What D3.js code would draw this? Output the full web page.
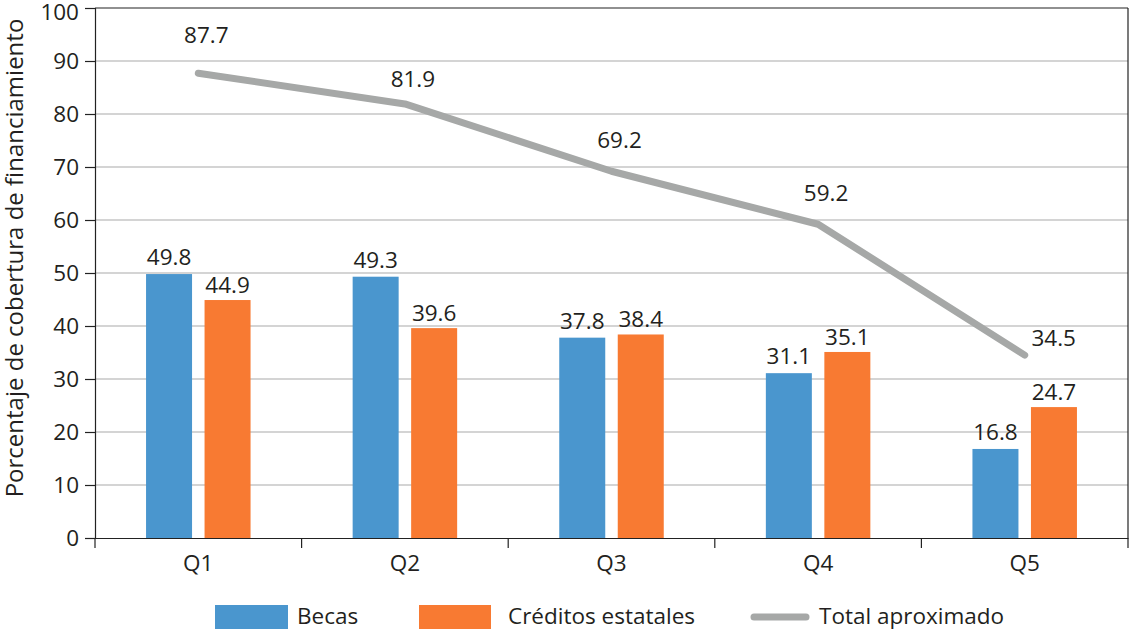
<!DOCTYPE html>
<html>
<head>
<meta charset="utf-8">
<script src="https://cdn.jsdelivr.net/npm/d3@7/dist/d3.min.js"></script>
<style>
  html, body { margin: 0; padding: 0; background: #fff; }
  svg { display: block; font-family: "Open Sans", "Noto Sans", sans-serif; }
</style>
</head>
<body>
<svg id="chart" width="1130" height="630"></svg>
<script>
// ---- data ----
const categories = ["Q1", "Q2", "Q3", "Q4", "Q5"];
const becas = [49.8, 49.3, 37.8, 31.1, 16.8];
const creditos = [44.9, 39.6, 38.4, 35.1, 24.7];
const total = [87.7, 81.9, 69.2, 59.2, 34.5];
const yTicks = [0, 10, 20, 30, 40, 50, 60, 70, 80, 90, 100];
const seriesNames = ["Becas", "Créditos estatales", "Total aproximado"];

// ---- layout ----
const colors = { becas: "#4a96ce", creditos: "#f87a32", total: "#a6a8a7" };
const margin = { left: 95, right: 2, top: 8, bottom: 92 };
const W = 1130, H = 630;
const totalLabelNudge = [[8, -30], [8, -17], [8, -23], [8, -23], [29, -9]];
const fs = 22.5;

const svg = d3.select("#chart");
const x = d3.scaleBand().domain(categories).range([margin.left, W - margin.right]);
const y = d3.scaleLinear().domain([0, 100]).range([H - margin.bottom, margin.top]);
const barW = 46, gap = 12.5;

// gridlines
svg.append("g").selectAll("line").data(yTicks.filter(d => d > 0 && d < 100)).join("line")
  .attr("x1", margin.left).attr("x2", W - margin.right)
  .attr("y1", d => y(d)).attr("y2", d => y(d))
  .attr("stroke", "#a9a9a9").attr("stroke-width", 1);

// frame top & right
svg.append("line").attr("x1", margin.left).attr("x2", W - margin.right)
  .attr("y1", y(100)).attr("y2", y(100)).attr("stroke", "#222").attr("stroke-width", 1.2);
svg.append("line").attr("x1", W - margin.right).attr("x2", W - margin.right)
  .attr("y1", y(100)).attr("y2", y(0)).attr("stroke", "#222").attr("stroke-width", 1.2);

// bars
const cx = d => x(d) + x.bandwidth() / 2;
svg.append("g").selectAll("rect").data(categories).join("rect")
  .attr("x", (d) => cx(d) - gap / 2 - barW)
  .attr("y", (d, i) => y(becas[i]))
  .attr("width", barW)
  .attr("height", (d, i) => y(0) - y(becas[i]))
  .attr("fill", colors.becas);
svg.append("g").selectAll("rect").data(categories).join("rect")
  .attr("x", (d) => cx(d) + gap / 2)
  .attr("y", (d, i) => y(creditos[i]))
  .attr("width", barW)
  .attr("height", (d, i) => y(0) - y(creditos[i]))
  .attr("fill", colors.creditos);

// bar labels
svg.append("g").selectAll("text").data(categories).join("text")
  .attr("x", d => cx(d) - gap / 2 - barW / 2)
  .attr("y", (d, i) => y(becas[i]) - 9)
  .attr("text-anchor", "middle").attr("font-size", fs).attr("fill", "#231f20")
  .text((d, i) => becas[i].toFixed(1));
svg.append("g").selectAll("text").data(categories).join("text")
  .attr("x", d => cx(d) + gap / 2 + barW / 2)
  .attr("y", (d, i) => y(creditos[i]) - 7)
  .attr("text-anchor", "middle").attr("font-size", fs).attr("fill", "#231f20")
  .text((d, i) => creditos[i].toFixed(1));

// total line
const line = d3.line().x((d, i) => cx(categories[i])).y(d => y(d));
svg.append("path").datum(total).attr("d", line)
  .attr("fill", "none").attr("stroke", colors.total).attr("stroke-width", 7)
  .attr("stroke-linecap", "round").attr("stroke-linejoin", "round");
svg.append("g").selectAll("text").data(total).join("text")
  .attr("x", (d, i) => cx(categories[i]) + totalLabelNudge[i][0])
  .attr("y", (d, i) => y(d) + totalLabelNudge[i][1])
  .attr("text-anchor", "middle").attr("font-size", fs).attr("fill", "#231f20")
  .text(d => d.toFixed(1));

// y axis
const yAxis = svg.append("g").attr("transform", `translate(${margin.left},0)`)
  .call(d3.axisLeft(y).tickValues(yTicks).tickSize(10).tickPadding(6).tickFormat(d3.format("d")));
yAxis.select(".domain").attr("stroke", "#222").attr("stroke-width", 1.2);
yAxis.selectAll(".tick line").attr("stroke", "#222").attr("stroke-width", 1.2);
yAxis.selectAll(".tick text").attr("font-size", fs).attr("fill", "#231f20")
  .attr("font-family", "'Open Sans', sans-serif");
yAxis.selectAll(".tick text").filter(d => d === 100).attr("dy", "0.5em");

// x axis
const xAxis = svg.append("g").attr("transform", `translate(0,${y(0)})`)
  .call(d3.axisBottom(x).tickSize(0).tickPadding(17));
xAxis.select(".domain").attr("stroke", "#222").attr("stroke-width", 1.2);
xAxis.selectAll(".tick text").attr("font-size", fs).attr("fill", "#231f20")
  .attr("font-family", "'Open Sans', sans-serif").attr("dy", "0.71em");
// category boundary ticks
const bounds = categories.map(d => x(d)).concat([x(categories[categories.length - 1]) + x.bandwidth()]);
svg.append("g").selectAll("line").data(bounds).join("line")
  .attr("x1", d => d).attr("x2", d => d)
  .attr("y1", y(0)).attr("y2", y(0) + 10)
  .attr("stroke", "#222").attr("stroke-width", 1.2);

// y title
svg.append("text")
  .attr("transform", `translate(23,258) rotate(-90)`)
  .attr("text-anchor", "middle").attr("font-size", 24).attr("fill", "#231f20")
  .text("Porcentaje de cobertura de financiamiento");

// legend
const legY = 616;
const leg = svg.append("g");
leg.append("rect").attr("x", 215).attr("y", legY - 11).attr("width", 73).attr("height", 24).attr("fill", colors.becas);
leg.append("text").attr("x", 297).attr("y", legY + 8).attr("font-size", fs).attr("fill", "#231f20").text(seriesNames[0]);
leg.append("rect").attr("x", 419).attr("y", legY - 11).attr("width", 72).attr("height", 24).attr("fill", colors.creditos);
leg.append("text").attr("x", 508).attr("y", legY + 8).attr("font-size", fs).attr("fill", "#231f20").text(seriesNames[1]);
leg.append("line").attr("x1", 754).attr("x2", 806).attr("y1", legY + 1).attr("y2", legY + 1)
  .attr("stroke", colors.total).attr("stroke-width", 7).attr("stroke-linecap", "round");
leg.append("text").attr("x", 819).attr("y", legY + 8).attr("font-size", fs).attr("fill", "#231f20").text(seriesNames[2]);
</script>
</body>
</html>
